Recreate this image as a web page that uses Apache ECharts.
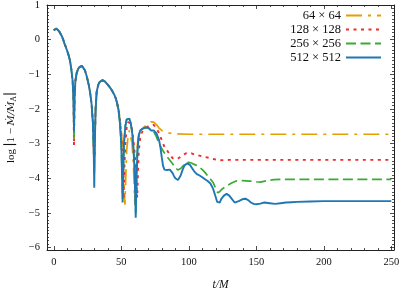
<!DOCTYPE html>
<html><head><meta charset="utf-8">
<script src="https://cdn.jsdelivr.net/npm/echarts@6/dist/echarts.min.js"></script>
<style>html,body{margin:0;padding:0;background:#fff}#c{width:399px;height:289px}</style>
</head><body><div id="c"></div>
<script>
// ---- data (t/M , log|1 - Mdot/Mdot_A|) ----
const seriesNames = ['64 \u00d7 64', '128 \u00d7 128', '256 \u00d7 256', '512 \u00d7 512'];
// common early part shared by all resolutions
const segA = [[0,0.27],[1,0.31],[2,0.32],[3,0.30],[4,0.24],[5,0.17],[6,0.10],[7,0.0],[8,-0.12],[9,-0.22],[10,-0.33],[11,-0.45],[12,-0.6],[13,-0.85],[14,-1.2],[14.6,-1.7]];
const segB = [[15.4,-1.7],[16,-1.2],[17,-0.96],[18,-0.85],[19,-0.79],[20,-0.76],[21,-0.76],[22,-0.8],[23,-0.88],[24,-1.0],[25,-1.15],[26,-1.32],[27,-1.55],[28,-1.85],[29,-2.4],[29.6,-3.2]];
const segC = [[30.4,-3.0],[31,-2.0],[31.8,-1.5],[33,-1.3],[34,-1.22],[35,-1.18],[36,-1.17],[37,-1.18],[38,-1.21],[39,-1.25],[40,-1.3],[41,-1.35],[42,-1.40],[43,-1.46],[44,-1.53],[45,-1.6],[46,-1.7],[47,-1.85]];
// dip depths at t=15 and t=30
const dip15 = [-2.6, -3.05, -2.85, -2.64];
const dip30 = [-3.4, -3.6, -3.9, -4.27];
// tails
const tail64 = [[48,-2.0],[49,-2.25],[50,-2.6],[51,-3.2],[52,-4.0],[52.7,-4.76],[53.4,-3.9],[54,-3.2],[55,-2.8],[56,-2.62],[57,-2.65],[58,-3.0],[59,-3.6],[60.1,-4.76],[60.8,-3.8],[61.5,-3.2],[62.5,-2.85],[64,-2.65],[66,-2.55],[68,-2.48],[70,-2.42],[72,-2.37],[74,-2.38],[76,-2.45],[78,-2.55],[80,-2.62],[83,-2.67],[86,-2.7],[90,-2.72],[100,-2.73],[250,-2.73]];
const tail128 = [[48,-2.02],[49,-2.3],[50,-2.75],[51,-3.6],[51.7,-4.6],[52.4,-3.6],[53,-3.0],[54,-2.55],[55,-2.38],[56,-2.35],[57,-2.42],[58,-2.6],[59,-2.9],[60,-3.3],[61,-3.9],[61.8,-4.56],[62.5,-3.7],[63,-3.2],[64,-2.85],[65,-2.7],[66,-2.62],[68,-2.55],[70,-2.5],[72,-2.47],[74,-2.46],[76,-2.55],[78,-2.7],[80,-2.9],[82,-3.1],[84,-3.2],[86,-3.32],[88,-3.42],[90,-3.45],[92,-3.43],[94,-3.38],[96,-3.32],[98,-3.28],[100,-3.27],[102,-3.28],[104,-3.31],[107,-3.34],[111,-3.38],[115,-3.41],[119,-3.45],[123,-3.48],[130,-3.47],[250,-3.47]];
const tail256 = [[48,-2.05],[49,-2.4],[50,-3.0],[50.5,-3.8],[51,-4.6],[51.5,-3.8],[52,-3.0],[53,-2.5],[54,-2.3],[55,-2.26],[56,-2.3],[57,-2.42],[58,-2.67],[59,-3.1],[60,-3.9],[60.7,-5.0],[61.3,-4.0],[62,-3.2],[63,-2.75],[64,-2.62],[66,-2.57],[68,-2.55],[70,-2.55],[72,-2.6],[74,-2.65],[76,-2.8],[78,-3.0],[80,-3.15],[82,-3.27],[84,-3.38],[86,-3.48],[88,-3.58],[90,-3.7],[91,-3.75],[92,-3.76],[94,-3.72],[96,-3.63],[98,-3.56],[100,-3.54],[102,-3.56],[104,-3.6],[107,-3.65],[110,-3.75],[112,-3.83],[114,-3.93],[116,-4.02],[118,-4.12],[120,-4.3],[121.5,-4.42],[123,-4.38],[125,-4.3],[128,-4.23],[131,-4.15],[135,-4.08],[140,-4.07],[145,-4.08],[150,-4.1],[153,-4.11],[158,-4.07],[163,-4.04],[170,-4.03],[250,-4.03]];
const tail512 = [[48,-2.05],[49,-2.4],[50,-3.0],[50.5,-3.8],[51,-4.7],[51.5,-3.8],[52,-3.0],[53,-2.5],[54,-2.3],[55,-2.25],[56,-2.28],[57,-2.4],[58,-2.65],[59,-3.1],[60,-3.9],[60.7,-5.14],[61.3,-4.0],[62,-3.2],[63,-2.75],[64,-2.62],[65,-2.58],[66,-2.56],[67,-2.55],[68,-2.53],[69,-2.52],[70,-2.54],[71,-2.58],[72,-2.62],[73,-2.63],[74,-2.62],[75,-2.62],[76,-2.7],[77,-2.8],[78,-2.9],[79,-3.1],[80,-3.4],[81,-3.65],[82,-3.75],[83,-3.76],[84,-3.76],[85,-3.75],[86,-3.75],[87,-3.78],[88,-3.85],[89,-3.93],[90,-4.0],[91,-4.04],[92,-4.05],[93,-4.02],[94,-3.92],[95,-3.8],[96,-3.7],[97,-3.62],[98,-3.58],[99,-3.57],[100,-3.58],[101,-3.62],[102,-3.68],[103,-3.74],[104,-3.8],[105,-3.85],[106,-3.88],[107,-3.9],[108,-3.92],[110,-3.97],[112,-4.03],[114,-4.08],[116,-4.15],[118,-4.3],[120,-4.55],[121,-4.68],[122,-4.73],[123,-4.7],[124,-4.6],[126,-4.5],[128,-4.45],[130,-4.5],[132,-4.6],[134,-4.7],[135,-4.71],[137,-4.66],[140,-4.6],[142,-4.59],[144,-4.63],[146,-4.7],[148,-4.74],[150,-4.75],[153,-4.73],[156,-4.7],[160,-4.72],[164,-4.74],[168,-4.72],[172,-4.7],[176,-4.69],[180,-4.68],[190,-4.67],[200,-4.66],[250,-4.66]];
const tails = [tail64, tail128, tail256, tail512];
// axis ticks
const xMajor = [0, 50, 100, 150, 200, 250];
const yMajor = [-6, -5, -4, -3, -2, -1, 0, 1];
const xMinor = []; for (let i = 1; i <= 25; i++) { if (i % 5) xMinor.push(i * 10); }
const yMinor = []; for (let i = -60; i <= 10; i++) { if (i % 10) yMinor.push(i / 10); }

// ---- styles ----
const colors = ['#E69F00', '#F02B2B', '#3BAA35', '#1F77B4'];
const dashes = [[16, 6, 3, 6], [3, 4.5], [10, 4.5], 'solid'];
const widths = [1.7, 1.9, 1.7, 1.9];
const serif = '"Liberation Serif", "DejaVu Serif", serif';
const XMIN = -5, XMAX = 252, YMIN = -6.07, YMAX = 1;

function build(i) {
  return segA.concat([[15, dip15[i]]], segB, [[30, dip30[i]]], segC, tails[i]);
}
const fmt = v => v < 0 ? '\u2212' + (-v) : String(v);

function xAx(pos, ticks, len, showLine, labels) {
  return {
    type: 'value', position: pos, min: XMIN, max: XMAX,
    axisLine: { show: showLine, onZero: false, lineStyle: { color: '#222', width: 1 } },
    axisTick: { show: true, inside: true, length: len, customValues: ticks, lineStyle: { color: '#222', width: 0.8 } },
    axisLabel: labels ? { show: true, customValues: ticks, margin: 7, color: '#111', fontFamily: serif, fontSize: 10.5 } : { show: false },
    splitLine: { show: false }
  };
}
function yAx(pos, ticks, len, showLine, labels) {
  return {
    type: 'value', position: pos, min: YMIN, max: YMAX,
    axisLine: { show: showLine, onZero: false, lineStyle: { color: '#222', width: 1 } },
    axisTick: { show: true, inside: true, length: len, customValues: ticks, lineStyle: { color: '#222', width: 0.8 } },
    axisLabel: labels ? { show: true, customValues: ticks, margin: 7, color: '#111', fontFamily: serif, fontSize: 10.5, formatter: fmt } : { show: false },
    splitLine: { show: false }
  };
}

const xAxes = [xAx('bottom', xMajor, 4, true, true), xAx('bottom', xMinor, 2, false, false), xAx('top', xMajor, 4, true, false), xAx('top', xMinor, 2, false, false)];
xAxes[0].name = 't/M';
xAxes[0].nameLocation = 'middle';
xAxes[0].nameGap = 29;
xAxes[0].nameTextStyle = { fontFamily: serif, fontStyle: 'italic', fontSize: 11.5, color: '#111' };
const yAxes = [yAx('left', yMajor, 4, true, true), yAx('left', yMinor, 2, false, false), yAx('right', yMajor, 4, true, false), yAx('right', yMinor, 2, false, false)];
yAxes[0].name = '{n|log\u2009}{b|\u2223}{n|1 \u2212 }{i|\u1E40/\u1E40}{s|A}{b|\u2223}';
yAxes[0].nameLocation = 'middle';
yAxes[0].nameRotate = 90;
yAxes[0].nameGap = 28;
yAxes[0].nameTextStyle = {
  color: '#111', fontFamily: serif,
  rich: {
    n: { fontFamily: serif, fontSize: 11, color: '#111' },
    b: { fontFamily: serif, fontSize: 14, color: '#111' },
    i: { fontFamily: '"DejaVu Serif", serif', fontStyle: 'italic', fontSize: 10, color: '#111' },
    s: { fontFamily: serif, fontSize: 7.5, color: '#111', verticalAlign: 'bottom', padding: [5, 0, 0, 0] }
  }
};

const series = seriesNames.map((n, i) => ({
  name: n, type: 'line', xAxisIndex: 0, yAxisIndex: 0,
  data: build(i), showSymbol: false, symbol: 'none', smooth: false,
  lineStyle: { color: colors[i], width: widths[i], type: dashes[i] },
  itemStyle: { color: colors[i] },
  animation: false, z: 2 + i
}));

const chart = echarts.init(document.getElementById('c'), null, { renderer: 'canvas' });
chart.setOption({
  animation: false,
  backgroundColor: '#fff',
  grid: { left: 47, right: 5, top: 5, bottom: 39, containLabel: false, outerBoundsMode: 'none' },
  legend: {
    orient: 'vertical', align: 'right', right: 17, top: 9, padding: 0,
    itemWidth: 35, itemHeight: 10, itemGap: 1,
    itemStyle: { color: 'transparent', borderWidth: 0, opacity: 0 },
    textStyle: { fontFamily: serif, fontSize: 12.5, color: '#111' },
    data: seriesNames
  },
  xAxis: xAxes,
  yAxis: yAxes,
  series: series
});
</script>
</body></html>
